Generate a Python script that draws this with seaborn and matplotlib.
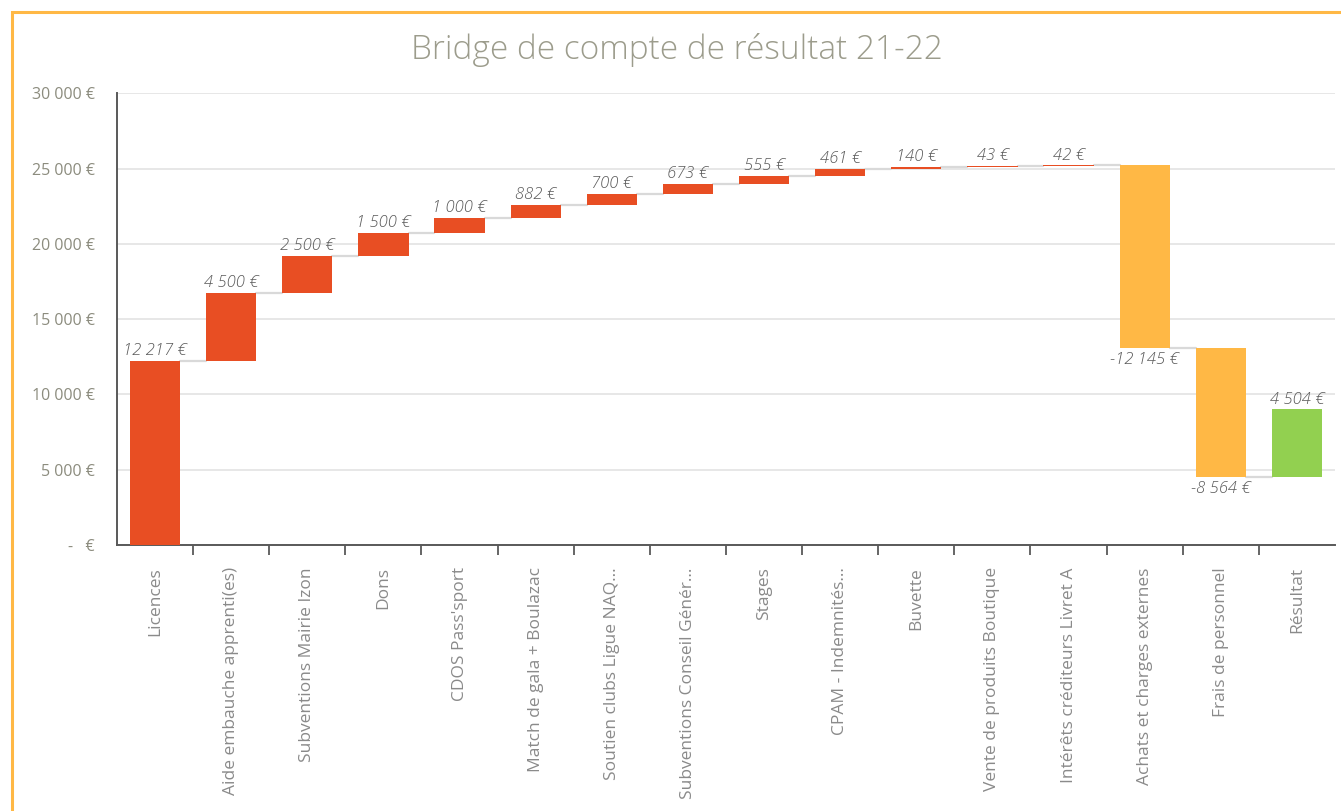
import numpy as np
import pandas as pd
import seaborn as sns
import matplotlib
import matplotlib.pyplot as plt
from matplotlib.patches import Rectangle

matplotlib.use('Agg')

categories = ['Licences', 'Aide embauche apprenti(es)', 'Subventions Mairie Izon', 'Dons',
              "CDOS Pass'sport", 'Match de gala + Boulazac', 'Soutien clubs Ligue NAQ...',
              'Subventions Conseil Génér...', 'Stages', 'CPAM - Indemnités...', 'Buvette',
              'Vente de produits Boutique', 'Intérêts créditeurs Livret A',
              'Achats et charges externes', 'Frais de personnel', 'Résultat']
amounts = [12217, 4500, 2500, 1500, 1000, 882, 700, 673, 555, 461, 140, 43, 42, -12145, -8564, 4504]
kinds = ['produit'] * 13 + ['charge'] * 2 + ['resultat']

palette = {'produit': '#E84E23', 'charge': '#FFB845', 'resultat': '#92D050'}

def fmt(v):
    s = '{:,}'.format(abs(v)).replace(',', ' ')
    return ('-' if v < 0 else '') + s + ' €'

# cumulative bases (the result bar is drawn as a step on top of the running total, like the source)
bottoms = []
run = 0
for v in amounts:
    bottoms.append(run)
    run += v

df = pd.DataFrame({'cat': categories, 'amount': amounts, 'bottom': bottoms, 'kind': kinds})

sns.set_theme(style='white')
plt.rcParams['font.family'] = ['Open Sans', 'DejaVu Sans']

fig = plt.figure(figsize=(13.41, 8.11), dpi=100)
ax = fig.add_axes([0.0872, 0.328, 0.9083, 0.557])

w = 0.66
sns.barplot(data=df, x='cat', y='amount', bottom=df['bottom'].values, order=categories,
            color='#E84E23', width=w, ax=ax, errorbar=None, zorder=3)
for p, k in zip(ax.patches, df['kind']):
    p.set_facecolor(palette[k])
    p.set_edgecolor('none')

n = len(categories)
for i in range(n - 1):
    lvl = bottoms[i] + amounts[i]
    ax.plot([i + w / 2, i + 1 - w / 2], [lvl, lvl], color='#D9D9D9', lw=1.6, zorder=2)

for i, (v, b) in enumerate(zip(amounts, bottoms)):
    if v >= 0:
        ax.text(i, b + v + 120, fmt(v), ha='center', va='bottom', fontsize=12,
                style='italic', fontweight='light', color='#595959', zorder=4)
    else:
        ax.text(i, b + v - 250, fmt(v), ha='center', va='top', fontsize=12,
                style='italic', fontweight='light', color='#595959', zorder=4)

ax.set_xlim(-0.5, n - 0.5)
ax.set_ylim(0, 30000)
yt = np.arange(0, 30001, 5000)
ax.set_yticks(yt)
ax.set_yticklabels(['{:,} €'.format(t).replace(',', ' ') if t else '-   €' for t in yt],
                   color='#8C8C7E', fontsize=11.5)
ax.yaxis.grid(True, color='#E3E3E3', lw=1.2, zorder=0)
ax.set_axisbelow(True)

ax.set_xticks(range(n))
ax.set_xticklabels(categories, rotation=90, color='#8A8A8A', fontsize=12.5)
ax.set_xticks(np.arange(0.5, n - 0.5, 1), minor=True)
ax.tick_params(axis='x', which='major', length=0, pad=16)
ax.tick_params(axis='x', which='minor', length=7, width=1.3, color='#595959', direction='out', bottom=True)
ax.tick_params(axis='y', length=0, pad=16)
ax.set_xlabel('')
ax.set_ylabel('')

sns.despine(ax=ax, top=True, right=True)
for s in ['left', 'bottom']:
    ax.spines[s].set_color('#595959')
    ax.spines[s].set_linewidth(1.4)

fig.text(0.505, 0.938, 'Bridge de compte de résultat 21-22', ha='center', va='center',
         fontsize=24, fontweight='light', color='#9C9C8C')

fig.patches.append(Rectangle((0.009, -0.01), 1.1, 0.995, transform=fig.transFigure,
                             fill=False, edgecolor='#FFB845', lw=2.2))

fig.savefig('out.png', dpi=100)
